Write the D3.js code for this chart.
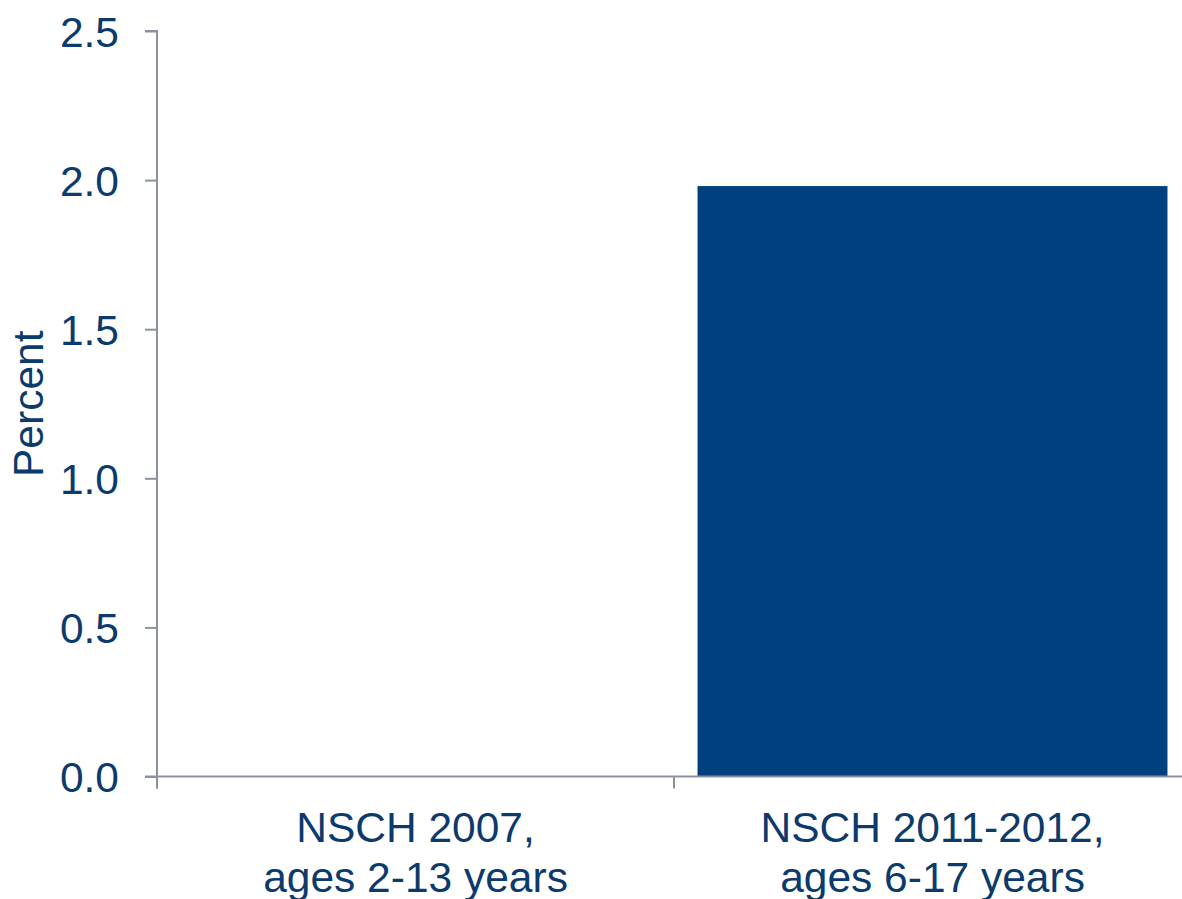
<!DOCTYPE html>
<html>
<head>
<meta charset="utf-8">
<script src="https://cdn.jsdelivr.net/npm/d3@7"></script>
<style>
  html, body { margin: 0; padding: 0; background: #ffffff; }
  svg { display: block; }
  text { font-family: "Liberation Sans", Arial, sans-serif; fill: #0b3a6c; }
</style>
</head>
<body>
<svg id="chart" width="1182" height="899"></svg>
<script>
// Survey waves and the percent reported for each
const categories = ["NSCH 2007", "NSCH 2011-2012"];
const categoryLines = [["NSCH 2007,", "ages 2-13 years"], ["NSCH 2011-2012,", "ages 6-17 years"]];
const values = [0, 1.98];
const yTicks = [0, 0.5, 1.0, 1.5, 2.0, 2.5];

const svg = d3.select("#chart");
const margin = { left: 157, top: 31, bottom: 122 };
const plotRight = 1191;
const height = 899;
const axisColor = "#8c91a0";
const barColor = "#01407f";
const fontSize = 42.5;

const y = d3.scaleLinear()
  .domain([0, 2.5])
  .range([height - margin.bottom - 0.5, margin.top]);

const x = d3.scaleBand()
  .domain(categories)
  .range([margin.left, plotRight])
  .paddingInner(0.091)
  .paddingOuter(0.0455);

// Bars
svg.append("g")
  .selectAll("rect")
  .data(categories.map((c, i) => ({ c, v: values[i] })))
  .join("rect")
  .attr("x", d => x(d.c))
  .attr("width", x.bandwidth())
  .attr("y", d => y(d.v))
  .attr("height", d => y(0) - y(d.v))
  .attr("fill", barColor);

// Y axis
const yAxis = svg.append("g")
  .attr("transform", `translate(${margin.left},0)`)
  .call(d3.axisLeft(y).tickValues(yTicks).tickFormat(d3.format(".1f")).tickSize(12).tickPadding(26));
yAxis.select(".domain").attr("stroke", axisColor).attr("stroke-width", 2)
  .attr("d", `M-12,${y(2.5)}H0V${y(0) + 12}`);
yAxis.selectAll(".tick line").attr("stroke", axisColor).attr("stroke-width", 2);
yAxis.selectAll(".tick text").style("font-size", fontSize + "px").attr("fill", "#0b3a6c")
  .attr("dy", "0.36em");

// X axis baseline with ticks at category boundaries
const step = x.step();
const boundaries = categories.map(c => x(c) - (step - x.bandwidth()) / 2);
const xAxis = svg.append("g");
xAxis.append("line")
  .attr("x1", margin.left - 12).attr("x2", 1182)
  .attr("y1", y(0)).attr("y2", y(0))
  .attr("stroke", axisColor).attr("stroke-width", 2);
xAxis.selectAll("line.tick")
  .data(boundaries)
  .join("line")
  .attr("class", "tick")
  .attr("x1", d => d).attr("x2", d => d)
  .attr("y1", y(0)).attr("y2", y(0) + 12)
  .attr("stroke", axisColor).attr("stroke-width", 2);

// Category labels, two lines each
const labels = svg.append("g")
  .selectAll("text")
  .data(categories.map((c, i) => ({ c, lines: categoryLines[i] })))
  .join("text")
  .attr("text-anchor", "middle")
  .style("font-size", fontSize + "px")
  .attr("transform", d => `translate(${x(d.c) + x.bandwidth() / 2},842)`);
labels.selectAll("tspan")
  .data(d => d.lines)
  .join("tspan")
  .attr("x", 0)
  .attr("y", (d, i) => i * 50)
  .text(d => d);

// Y axis title
svg.append("text")
  .attr("transform", `translate(43,${(y(0) + y(2.5)) / 2}) rotate(-90)`)
  .attr("text-anchor", "middle")
  .style("font-size", fontSize + "px")
  .text("Percent");
</script>
</body>
</html>
